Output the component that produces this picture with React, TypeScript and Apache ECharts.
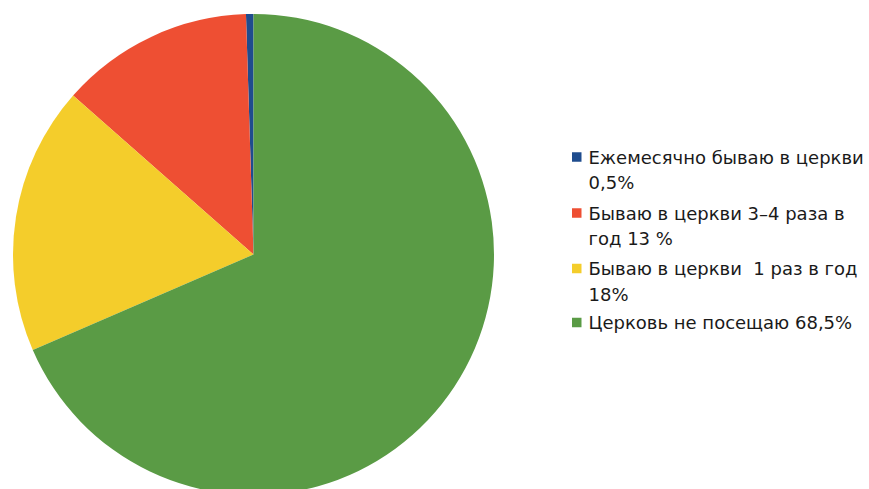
import React, { useEffect, useRef } from "react";
import * as echarts from "echarts";

const categories = [
  "Ежемесячно бываю в церкви\n0,5%",
  "Бываю в церкви 3–4 раза в\nгод 13 %",
  "Бываю в церкви  1 раз в год\n18%",
  "Церковь не посещаю 68,5%",
];
const values = [0.5, 13, 18, 68.5];
const colors = ["#1F4C8E", "#EE4F33", "#F4CD2B", "#5A9B45"];

const iconTops = [152, 208, 263.5, 317.5];
const LH = 25.5;

export default function App() {
  const ref = useRef<HTMLDivElement>(null);
  useEffect(() => {
    if (!ref.current) return;
    const chart = echarts.init(ref.current, null, { renderer: "svg" });
    const legends = categories.map((name, i) => {
      const twoLine = name.split("\n").length > 1;
      const offset = twoLine ? 1.5 * LH - 5 : LH / 2 - 5;
      return {
        data: [name],
        orient: "vertical",
        left: 572,
        top: iconTops[i] - offset,
        padding: 0,
        itemWidth: 9.5,
        itemHeight: 9.5,
        icon: "rect",
        selectedMode: false,
        formatter: (n: string) => (twoLine ? "\n" + n : n),
        textStyle: {
          fontFamily: "'DejaVu Sans', sans-serif",
          fontSize: 18,
          lineHeight: LH,
          color: "#1a1a1a",
          padding: [0, 0, 0, 2],
        },
      };
    });
    chart.setOption({
      animation: false,
      color: colors,
      legend: legends,
      series: [
        {
          type: "pie",
          center: [253.5, 254.5],
          radius: 240.5,
          startAngle: 90,
          clockwise: false,
          label: { show: false },
          labelLine: { show: false },
          itemStyle: { borderWidth: 0 },
          emphasis: { disabled: true },
          data: categories.map((name, i) => ({ name, value: values[i] })),
        },
      ],
    });
    return () => chart.dispose();
  }, []);
  return (
    <div
      ref={ref}
      style={{ position: "fixed", left: 0, top: 0, width: 869, height: 489, background: "#fff" }}
    />
  );
}
